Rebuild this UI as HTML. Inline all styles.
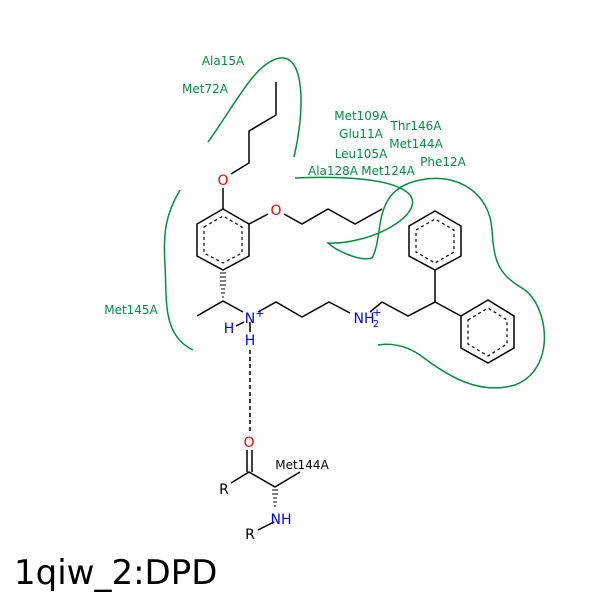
<!DOCTYPE html>
<html><head><style>body{margin:0;background:#fff}svg{display:block}</style></head><body>
<svg width="600" height="600" viewBox="0 0 600 600" xmlns="http://www.w3.org/2000/svg" font-family="DejaVu Sans, Liberation Sans, sans-serif">
<g fill="none" stroke="#009040" stroke-width="1.5">
<path d="M208,142 C235,105 255,62 280,58 C305,55 305,110 294,157"/>
<path d="M180,190 C165,215 163,235 165,265 C167,300 162,335 193,350"/>
<path d="M295,178 C340,176 395,178 410,195 C425,215 370,245 328,243 C335,250 360,262 372,258 C385,235 370,190 420,180 C460,172 490,195 492,230 C494,265 500,275 525,290 C550,310 555,370 515,385 C480,395 450,378 420,355 C405,345 390,343 378,345"/>
</g>
<g stroke="#000" stroke-width="1.5" fill="none">
<polygon points="223,209 249,224 249,256 223,270 197,256 197,224"/>
<polyline points="223,209 223,188"/><polyline points="231,174 249,163 249,131 276,115 276,82"/>
<polyline points="249,224 268,214"/><polyline points="284,214 302,224 328,209 355,224 382,209"/>
<polyline points="197,316 223,301 243,312"/>
<polyline points="258,312 276,302 302,317 329,302 350,313"/>
<polyline points="370,312 382,302 408,316 435,302 435,270"/>
<polyline points="435,302 461,316"/>
<polygon points="435,211 461,226 461,256 435,270 409,256 409,226"/>
<polygon points="461,316 488,300 514,316 514,348 488,363 461,348"/>
<polyline points="244,322 236,326"/><line x1="250" y1="322" x2="250" y2="332"/>
<line x1="250" y1="350" x2="250" y2="432" stroke-dasharray="4,3"/>
<line x1="247" y1="450" x2="247" y2="472"/><line x1="252" y1="450" x2="252" y2="472"/>
<polyline points="231,483 249,472 275,487 300,472"/>
<line x1="258" y1="530" x2="274" y2="522"/>
</g>
<g stroke="#000" stroke-width="1.2" stroke-dasharray="3,3" fill="none">
<polygon points="204,227 223,216 242,227 242,253 223,263 204,253"/>
<polygon points="416,230 435,219 454,230 454,252 435,263 416,252"/>
<polygon points="468,320 488,308 507,320 507,344 488,356 468,344"/>
</g>
<g stroke="#000" stroke-width="1">
<line x1="220" y1="273" x2="226" y2="273"/><line x1="220" y1="277" x2="226" y2="277"/><line x1="220" y1="281" x2="226" y2="281"/><line x1="220" y1="285" x2="226" y2="285"/><line x1="221" y1="289" x2="225" y2="289"/><line x1="221" y1="293" x2="225" y2="293"/><line x1="222" y1="297" x2="224" y2="297"/>
<line x1="272" y1="490" x2="278" y2="490"/><line x1="272" y1="494" x2="278" y2="494"/><line x1="273" y1="498" x2="277" y2="498"/><line x1="273" y1="502" x2="277" y2="502"/><line x1="274" y1="506" x2="276" y2="506"/>
</g>
<g font-size="14" text-anchor="middle">
<text x="223" y="185" fill="#f00">O</text><text x="276" y="215" fill="#f00">O</text>
<text x="250" y="323" fill="#00f">N</text><text x="260" y="317" fill="#00f" font-size="11">+</text>
<text x="229" y="333" fill="#00f">H</text><text x="250" y="345" fill="#00f">H</text>
<text x="364" y="323" fill="#00f">NH</text><text x="376" y="327" fill="#00f" font-size="10">2</text><text x="377" y="316" fill="#00f" font-size="11">+</text>
<text x="249" y="447" fill="#f00">O</text>
<text x="224" y="494" fill="#000">R</text>
<text x="281" y="524" fill="#00f">NH</text>
<text x="250" y="539" fill="#000">R</text>
</g>
<text x="302" y="469" font-size="12" text-anchor="middle" fill="#000">Met144A</text>
<g font-size="12" text-anchor="middle" fill="#009040">
<text x="223" y="65">Ala15A</text><text x="205" y="93">Met72A</text>
<text x="361" y="120">Met109A</text><text x="361" y="138">Glu11A</text><text x="416" y="130">Thr146A</text>
<text x="416" y="148">Met144A</text><text x="361" y="158">Leu105A</text><text x="443" y="166">Phe12A</text>
<text x="333" y="175">Ala128A</text><text x="388" y="175">Met124A</text><text x="131" y="314">Met145A</text>
</g>
<text x="14" y="584" font-size="34" fill="#000">1qiw_2:DPD</text>
</svg>
</body></html>
